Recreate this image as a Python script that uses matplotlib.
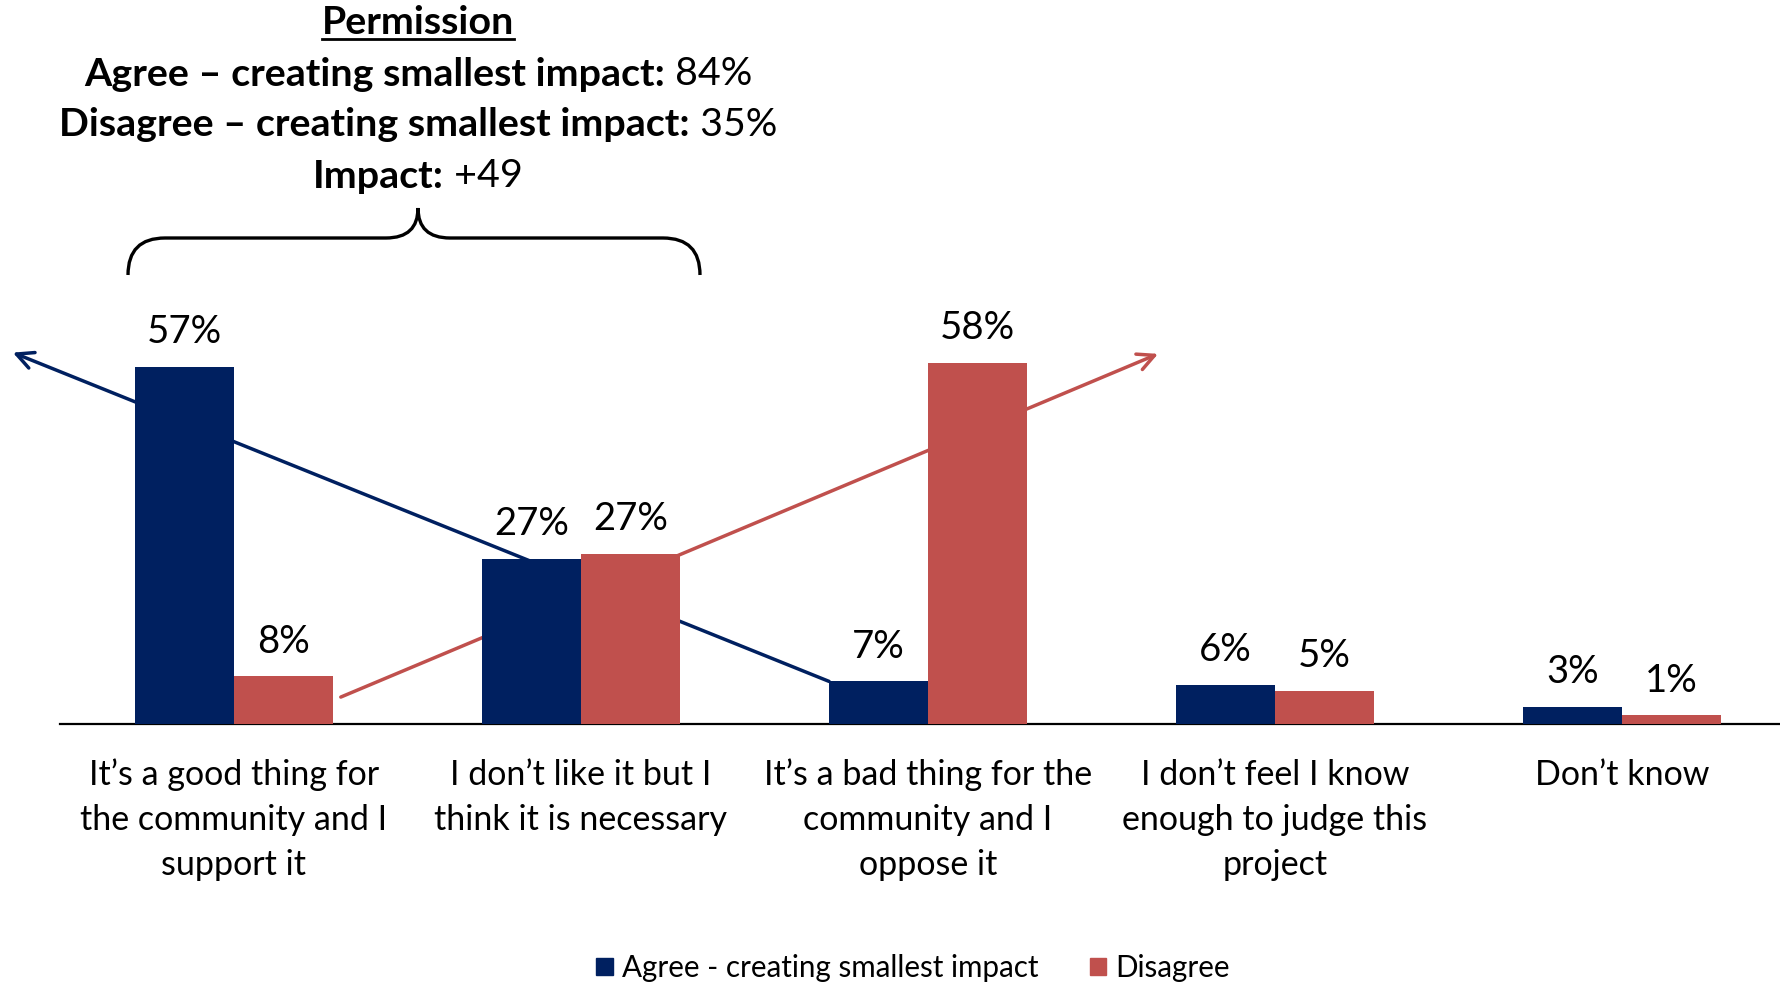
import matplotlib
matplotlib.use("Agg")
import matplotlib.pyplot as plt
from matplotlib.path import Path
from matplotlib.patches import PathPatch, Patch
import numpy as np

plt.rcParams['font.family'] = ['Lato', 'DejaVu Sans']

# data
categories = ["It\u2019s a good thing for\nthe community and I\nsupport it",
              "I don\u2019t like it but I\nthink it is necessary",
              "It\u2019s a bad thing for the\ncommunity and I\noppose it",
              "I don\u2019t feel I know\nenough to judge this\nproject",
              "Don\u2019t know"]
agree = [57.0, 26.4, 6.8, 6.2, 2.7]
disagree = [7.6, 27.2, 57.7, 5.3, 1.4]
agree_labels = ["57%", "27%", "7%", "6%", "3%"]
disagree_labels = ["8%", "27%", "58%", "5%", "1%"]
series_names = ["Agree - creating smallest impact", "Disagree"]

header_title = "Permission"
header_lines = [("Agree \u2013 creating smallest impact:", " 84%"),
                ("Disagree \u2013 creating smallest impact:", " 35%"),
                ("Impact:", " +49")]

navy = "#002060"
red = "#C0504D"

W, H = 1780, 983
fig = plt.figure(figsize=(W / 100, H / 100), dpi=100)
# axes spans the full width; baseline sits at pixel row 724
ax = fig.add_axes([0, 1 - 724 / H, 1, 724 / H])
ax.set_xlim(-0.674, 4.455)
ax.set_ylim(0, 115.6)

x = np.arange(len(categories))
bw = 0.285
b1 = ax.bar(x - bw / 2, agree, bw, color=navy, zorder=3)
b2 = ax.bar(x + bw / 2, disagree, bw, color=red, zorder=3)

for rect, lab in zip(b1, agree_labels):
    ax.annotate(lab, (rect.get_x() + rect.get_width() / 2, rect.get_height()),
                xytext=(0, 25), textcoords="offset points", ha="center", va="center",
                fontsize=27.5)
for rect, lab in zip(b2, disagree_labels):
    ax.annotate(lab, (rect.get_x() + rect.get_width() / 2, rect.get_height()),
                xytext=(0, 25), textcoords="offset points", ha="center", va="center",
                fontsize=27.5)

# trend arrows behind the bars
ax.annotate("", xy=(-0.637, 59.3), xytext=(x[2] - bw, agree[2]),
            arrowprops=dict(arrowstyle="->", color=navy, lw=2.5, mutation_scale=30,
                            shrinkA=0, shrinkB=0), zorder=1)
ax.annotate("", xy=(2.663, 59.1), xytext=(0.308, 4.3),
            arrowprops=dict(arrowstyle="->", color=red, lw=2.5, mutation_scale=30,
                            shrinkA=0, shrinkB=0), zorder=1)

for s in ["top", "right", "left"]:
    ax.spines[s].set_visible(False)
ax.spines["bottom"].set_bounds(-0.5, 4.455)
ax.spines["bottom"].set_linewidth(1.6)
ax.set_yticks([])
ax.set_xticks(x)
ax.set_xticklabels(categories, fontsize=24.5, linespacing=1.5)
ax.tick_params(axis="x", length=0, pad=25)

# legend
handles = [Patch(color=navy), Patch(color=red)]
fig.legend(handles, series_names, loc="center", bbox_to_anchor=(0.513, 1 - 968 / H),
           ncol=2, frameon=False, fontsize=21.3, handlelength=0.55, handleheight=0.55,
           handletextpad=0.3, columnspacing=1.76)

# header block above the first two groups
fig.canvas.draw()
renderer = fig.canvas.get_renderer()
cx = 418 / W
hfs = 28.4
t = fig.text(cx, 1 - 22 / H, header_title, ha="center", va="center",
             fontsize=hfs, fontweight="bold")
bb = t.get_window_extent(renderer)
fig.add_artist(plt.Line2D([bb.x0 / W, bb.x1 / W], [(bb.y0 + 1) / H] * 2,
                          color="black", lw=2))
for i, (bold, rest) in enumerate(header_lines):
    yy = 1 - (74 + 51 * i) / H
    tb = fig.text(0, yy, bold, ha="left", va="center", fontsize=hfs, fontweight="bold")
    tr = fig.text(0, yy, rest, ha="left", va="center", fontsize=hfs)
    wb = tb.get_window_extent(renderer).width
    wr = tr.get_window_extent(renderer).width
    left = cx * W - (wb + wr) / 2
    tb.set_x(left / W)
    tr.set_x((left + wb) / W)

# curly brace under the header
pts = [(128, 275), (128, 238), (165, 238), (386, 238), (418, 238), (418, 208),
       (418, 238), (450, 238), (663, 238), (700, 238), (700, 275)]
codes = [Path.MOVETO, Path.CURVE3, Path.CURVE3, Path.LINETO, Path.CURVE3, Path.CURVE3,
         Path.CURVE3, Path.CURVE3, Path.LINETO, Path.CURVE3, Path.CURVE3]
verts = [(px / W, 1 - py / H) for px, py in pts]
fig.add_artist(PathPatch(Path(verts, codes), fill=False, lw=2.4, ec="black",
                         transform=fig.transFigure))

fig.savefig("out.png", dpi=100)
